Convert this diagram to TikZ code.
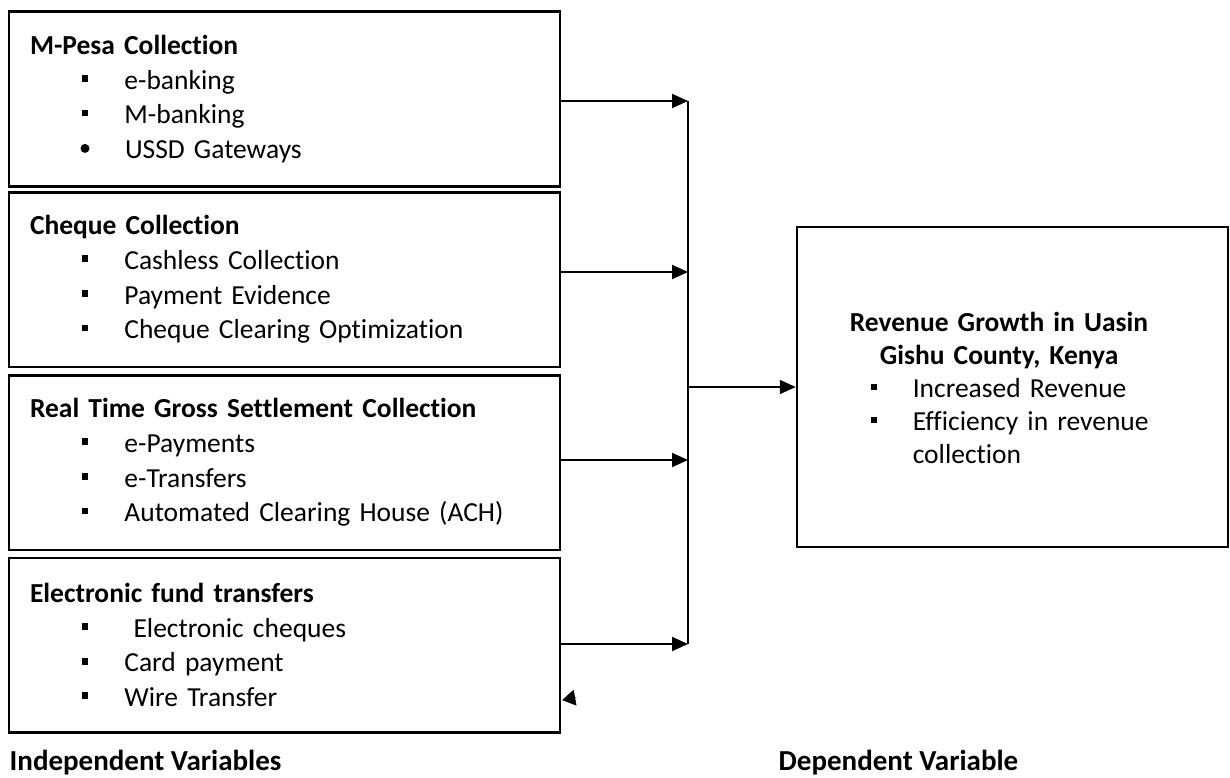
\documentclass[tikz,border=0pt]{standalone}
\usepackage{fontspec}
\setmainfont{Carlito}[Ligatures=NoCommon]
\usetikzlibrary{arrows.meta}
\setlength{\parindent}{0pt}
\begin{document}
\begin{tikzpicture}[x=1pt,y=-1pt,>={Triangle[length=16pt,width=14pt]}]
  \tikzstyle{box}=[draw,line width=2.5pt,rectangle,inner xsep=21pt,inner ysep=0pt,text width=509pt,align=left,minimum height=174.5pt,font=\fontsize{27.5}{34.6}\selectfont]
  \tikzstyle{link}=[->,line width=2pt]
  \tikzstyle{varlabel}=[font=\fontsize{29}{34}\selectfont\bfseries,anchor=base west,inner sep=0pt]
  \def\sq{\hspace*{51.7pt}\raisebox{7.3pt}{\rule{6.7pt}{6.7pt}}\hspace*{36pt}}	% square bullet
  \def\dt{\hspace*{50.5pt}\raisebox{5.4pt}{\tikz\fill (0,0) circle (4.5pt);}\hspace*{35.5pt}}	% round bullet
  \def\sqr{\hspace*{31.7pt}\raisebox{7.3pt}{\rule{6.7pt}{6.7pt}}\hspace*{35.4pt}}	% bullet, right box
  \def\bx{688}	% x of the collecting line
  \useasboundingbox (0,0) rectangle (1230,778);
  \node[box] (mpesa) at (284.5,99) {\textbf{M-Pesa Collection}\\ \sq e-banking\\ \sq M-banking\\ \dt USSD Gateways};
  \node[box] (cheque) at (284.5,279.5) {\textbf{Cheque Collection}\\ \sq Cashless Collection\\ \sq Payment Evidence\\ \sq Cheque Clearing Optimization};
  \node[box] (rtgs) at (284.5,462.5) {\textbf{Real Time Gross Settlement Collection}\\ \sq e-Payments\\ \sq e-Transfers\\ \sq Automated Clearing House (ACH)};
  \node[box] (eft) at (284.5,645) {\textbf{Electronic fund transfers}\\ \sq\ Electronic cheques\\ \sq Card payment\\ \sq Wire Transfer};
  \node[draw,line width=2.5pt,minimum width=431pt,minimum height=320pt,inner sep=0pt] (growth) at (1012.5,387) {};
  \node[font=\fontsize{27.5}{33}\selectfont,text width=320pt,align=left,inner sep=0pt] (growthtext) at (999,388) {{\centering\bfseries Revenue Growth in Uasin\\ Gishu County, Kenya\par}\sqr Increased Revenue\\ \sqr Efficiency in revenue\\ \hspace*{73.8pt}collection};
  \node[varlabel] (indep) at (9.5,770) {Independent Variables};
  \node[varlabel] (dep) at (778.5,770) {Dependent Variable};
  % collecting line and arrows
  \path (\bx,101) coordinate (j1) (\bx,272) coordinate (j2) (\bx,460) coordinate (j3) (\bx,644) coordinate (j4) (\bx,387) coordinate (jm);
  \draw[line width=1.2pt] (j1) -- (j4);
  \draw[link] (mpesa.east |- j1) -- (j1);
  \draw[link] (cheque.east |- j2) -- (j2);
  \draw[link] (rtgs.east |- j3) -- (j3);
  \draw[link] (eft.east |- j4) -- (j4);
  \draw[link] (jm) -- (growth.west |- jm);
  \path (eft.east) + (15,52.5) coordinate (stray);
  \draw[-{Triangle[length=13pt,width=16pt]},line width=0.5pt] (stray) -- ([shift={(1,55)}]eft.east);
\end{tikzpicture}
\end{document}
